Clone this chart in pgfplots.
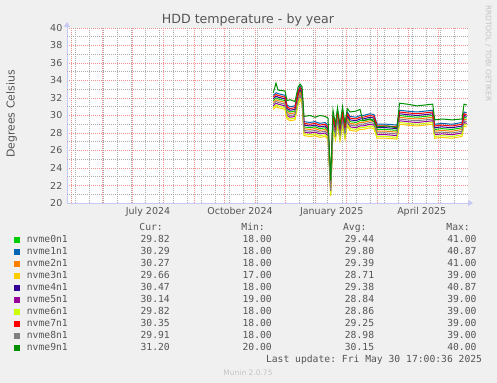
\documentclass[border=0pt]{standalone}
\usepackage{pgfplots}
\pgfplotsset{compat=1.18}
\usepackage{pgfplotstable}
\usepackage{fontspec}
\setmainfont{DejaVu Sans}
\newfontfamily\monofont{DejaVu Sans Mono}
\usetikzlibrary{arrows.meta}
\frenchspacing

\definecolor{c0}{HTML}{00CC00}
\definecolor{c1}{HTML}{0066B3}
\definecolor{c2}{HTML}{FF8000}
\definecolor{c3}{HTML}{FFCC00}
\definecolor{c4}{HTML}{330099}
\definecolor{c5}{HTML}{990099}
\definecolor{c6}{HTML}{CCFF00}
\definecolor{c7}{HTML}{FF0000}
\definecolor{c8}{HTML}{808080}
\definecolor{c9}{HTML}{008F00}
\definecolor{bgc}{HTML}{F0F0F0}
\definecolor{txt}{HTML}{555555}
\definecolor{axc}{HTML}{C8C8F5}
\definecolor{mgc}{HTML}{EE9090}
\definecolor{ngc}{HTML}{ABABAB}
\definecolor{lgc}{HTML}{C4C4C4}

% x in pixel-days from the plot's left edge (May 1 2024 at x=4)
\pgfplotstableread{
x n0 n1 n2 n3 n4 n5 n6 n7 n8 n9
206.3 31.7 32.3 31.5 30.7 31.9 31.1 30.9 32.1 31.3 32.6
209.0 32.0 32.6 31.8 31.0 32.2 31.4 31.2 32.4 31.6 33.7
211.0 31.9 32.5 31.7 30.9 32.1 31.3 31.1 32.3 31.5 32.9
218.0 31.7 32.3 31.5 30.7 31.9 31.1 30.9 32.1 31.3 32.8
220.0 30.6 31.2 30.4 29.6 30.8 30.0 29.8 31.0 30.2 31.7
223.0 30.4 31.0 30.2 29.4 30.6 29.8 29.6 30.8 30.0 31.8
228.0 30.5 31.1 30.3 29.5 30.7 29.9 29.7 30.9 30.1 31.6
231.0 32.2 32.8 32.0 31.2 32.4 31.6 31.4 32.6 31.8 33.2
233.0 32.8 33.4 32.6 31.8 33.0 32.2 32.0 33.2 32.4 33.6
235.0 32.4 33.0 32.2 31.4 32.6 31.8 31.6 32.8 32.0 33.3
237.0 28.7 29.3 28.5 27.7 28.9 28.1 27.9 29.1 28.3 29.9
243.0 28.6 29.2 28.4 27.6 28.8 28.0 27.8 29.0 28.2 30.0
248.0 28.7 29.3 28.5 27.7 28.9 28.1 27.9 29.1 28.3 29.8
253.0 28.5 29.1 28.3 27.5 28.7 27.9 27.7 28.9 28.1 30.0
258.0 28.6 29.2 28.4 27.6 28.8 28.0 27.8 29.0 28.2 29.9
261.0 28.3 28.9 28.1 27.3 28.5 27.7 27.5 28.7 27.9 29.7
263.7 21.8 22.4 21.6 20.8 22.0 21.2 21.0 22.2 21.4 22.6
266.0 29.4 30.0 29.2 28.4 29.6 28.8 28.6 29.8 29.0 30.6
268.5 28.2 28.8 28.0 27.2 28.4 27.6 27.4 28.6 27.8 29.0
270.5 29.9 30.5 29.7 28.9 30.1 29.3 29.1 30.3 29.5 30.9
273.0 28.1 28.7 27.9 27.1 28.3 27.5 27.3 28.5 27.7 28.9
275.5 29.8 30.4 29.6 28.8 30.0 29.2 29.0 30.2 29.4 31.0
278.0 28.3 28.9 28.1 27.3 28.5 27.7 27.5 28.7 27.9 29.1
280.3 29.8 30.4 29.6 28.8 30.0 29.2 29.0 30.2 29.4 30.8
283.0 29.3 29.9 29.1 28.3 29.5 28.7 28.5 29.7 28.9 30.4
289.0 29.2 29.8 29.0 28.2 29.4 28.6 28.4 29.6 28.8 30.5
293.0 29.4 30.0 29.2 28.4 29.6 28.8 28.6 29.8 29.0 30.7
296.0 29.4 30.0 29.2 28.4 29.6 28.8 28.6 29.8 29.0 29.4
303.0 29.6 30.2 29.4 28.6 29.8 29.0 28.8 30.0 29.2 29.6
307.0 29.5 30.1 29.3 28.5 29.7 28.9 28.7 29.9 29.1 29.3
310.0 28.4 29.0 28.2 27.4 28.6 27.8 27.6 28.8 28.0 28.7
320.0 28.4 29.0 28.2 27.4 28.6 27.8 27.6 28.8 28.0 28.8
330.0 28.3 28.9 28.1 27.3 28.5 27.7 27.5 28.7 27.9 28.6
332.5 30.0 30.6 29.8 29.0 30.2 29.4 29.2 30.4 29.6 31.4
340.0 29.9 30.5 29.7 28.9 30.1 29.3 29.1 30.3 29.5 31.3
350.0 29.8 30.4 29.6 28.8 30.0 29.2 29.0 30.2 29.4 31.1
358.0 29.9 30.5 29.7 28.9 30.1 29.3 29.1 30.3 29.5 31.2
365.7 30.0 30.6 29.8 29.0 30.2 29.4 29.2 30.4 29.6 31.3
367.7 28.4 29.0 28.2 27.4 28.6 27.8 27.6 28.8 28.0 29.5
375.0 28.5 29.1 28.3 27.5 28.7 27.9 27.7 28.9 28.1 29.6
385.0 28.4 29.0 28.2 27.4 28.6 27.8 27.6 28.8 28.0 29.5
395.0 28.6 29.2 28.4 27.6 28.8 28.0 27.8 29.0 28.2 29.6
397.0 29.8 30.4 29.6 28.8 30.0 29.2 29.0 30.2 29.4 31.3
399.7 29.7 30.3 29.5 28.7 29.9 29.1 28.9 30.1 29.3 31.2
}\tempdata

\begin{document}
\begin{tikzpicture}
\path[use as bounding box] (0,0) rectangle (497bp,383bp);
\fill[bgc] (0,0) rectangle (497bp,383bp);
\begin{axis}[
  at={(67bp,180bp)}, anchor=south west,
  scale only axis, width=401bp, height=175bp,
  xmin=0, xmax=401, ymin=20, ymax=40,
  axis background/.style={fill=white},
  axis x line=bottom, axis y line=left,
  x axis line style={draw=axc, line width=0.8bp, -{Triangle[width=6bp,length=5bp]}, shorten >=-5bp},
  y axis line style={draw=axc, line width=0.8bp, -{Triangle[width=6bp,length=5bp]}, shorten >=-6bp},
  ytick={20,22,...,40},
  xtick={4,35.7,65.7,96.3,127.3,157.3,188,218,248.7,279.7,310.3,341.3,371.3},
  xticklabels={},
  extra x ticks={81,173,264.7,354.7},
  extra x tick labels={July 2024,October 2024,January 2025,April 2025},
  extra x tick style={xmajorgrids=false, major tick length=0pt},
  xmajorgrids=true, ymajorgrids=true,
  major grid style={draw=mgc, dash pattern=on 1bp off 1bp, line width=0.8bp},
  major tick length=0pt,
  ticklabel style={font=\fontsize{9.5bp}{11bp}\selectfont, text=txt},
  /pgf/number format/assume math mode=true,
  yticklabel style={anchor=east, inner sep=0pt, xshift=-4.5bp},
  xticklabel style={anchor=north, inner sep=0pt, yshift=-4bp},
  clip=true,
]
% minor (grey) grid
\pgfplotsinvokeforeach{8,22,36,50,64.2,78.2,92.2,106.3,120.3,134.4,148.5,162.5,176.6,190.6,204.7,232.8,246.8,260.9,275,289,303,317.1,331.2,345.2,359.3,373.3,387.4}{
  \draw[ngc, dash pattern=on 1bp off 1bp, line width=0.9bp] (axis cs:#1,20) -- (axis cs:#1,40);
}
\pgfplotsinvokeforeach{21,23,25,27,29,31,33,35,37,39}{
  \draw[ngc, dash pattern=on 1bp off 1bp, line width=0.9bp] (axis cs:0,#1) -- (axis cs:401,#1);
}
\addplot[c0, line width=1bp] table[x=x,y=n0]{\tempdata};
\addplot[c1, line width=1bp] table[x=x,y=n1]{\tempdata};
\addplot[c2, line width=1bp] table[x=x,y=n2]{\tempdata};
\addplot[c3, line width=1bp] table[x=x,y=n3]{\tempdata};
\addplot[c4, line width=1bp] table[x=x,y=n4]{\tempdata};
\addplot[c5, line width=1bp] table[x=x,y=n5]{\tempdata};
\addplot[c6, line width=1bp] table[x=x,y=n6]{\tempdata};
\addplot[c7, line width=1bp] table[x=x,y=n7]{\tempdata};
\addplot[c8, line width=1bp] table[x=x,y=n8]{\tempdata};
\addplot[c9, line width=1bp] table[x=x,y=n9]{\tempdata};
\end{axis}

\node[font=\fontsize{12.6bp}{14bp}\selectfont, text=txt, anchor=base] at (248bp,359.5bp) {HDD temperature - by year};
\node[rotate=90, anchor=base, font=\fontsize{10.9bp}{12bp}\selectfont, text=txt] at (14.5bp,269bp) {Degrees Celsius};
\node[rotate=-90, font=\fontsize{7.5bp}{8bp}\selectfont, text=lgc] at (488.3bp,329.7bp) {RRDTOOL / TOBI OETIKER};

\begin{scope}[every node/.style={font=\monofont\fontsize{9.7bp}{11bp}\selectfont, text=txt, inner sep=0pt}]
\node[anchor=mid east] at (163bp,155.7bp) {Cur:};
\node[anchor=mid east] at (265bp,155.7bp) {Min:};
\node[anchor=mid east] at (366.7bp,155.7bp) {Avg:};
\node[anchor=mid east] at (470bp,155.7bp) {Max:};
\foreach \i/\nm/\cu/\mi/\av/\ma in {0/nvme0n1/29.82/18.00/29.44/41.00,
  1/nvme1n1/30.29/18.00/29.80/40.87,
  2/nvme2n1/30.27/18.00/29.39/41.00,
  3/nvme3n1/29.66/17.00/28.71/39.00,
  4/nvme4n1/30.47/18.00/29.38/40.87,
  5/nvme5n1/30.14/19.00/28.84/39.00,
  6/nvme6n1/29.82/18.00/28.86/39.00,
  7/nvme7n1/30.35/18.00/29.25/39.00,
  8/nvme8n1/29.91/18.00/28.98/39.00,
  9/nvme9n1/31.20/20.00/30.15/40.00}{
  \pgfmathsetmacro\yy{143-12*\i}
  \fill[c\i] ({14bp},{(\yy-3)*1bp}) rectangle ++(6bp,6bp);
  \node[anchor=mid west] at ({26.7bp},{\yy*1bp}) {\nm};
  \node[anchor=mid east] at ({170bp},{\yy*1bp}) {\cu};
  \node[anchor=mid east] at ({272bp},{\yy*1bp}) {\mi};
  \node[anchor=mid east] at ({374.3bp},{\yy*1bp}) {\av};
  \node[anchor=mid east] at ({476.7bp},{\yy*1bp}) {\ma};
}
\node[anchor=mid east] at (482.3bp,23.7bp) {Last update: Fri May 30 17:00:36 2025};
\end{scope}
\node[font=\fontsize{7.5bp}{8bp}\selectfont, text=lgc] at (248bp,10.7bp) {Munin 2.0.75};
\end{tikzpicture}
\end{document}
